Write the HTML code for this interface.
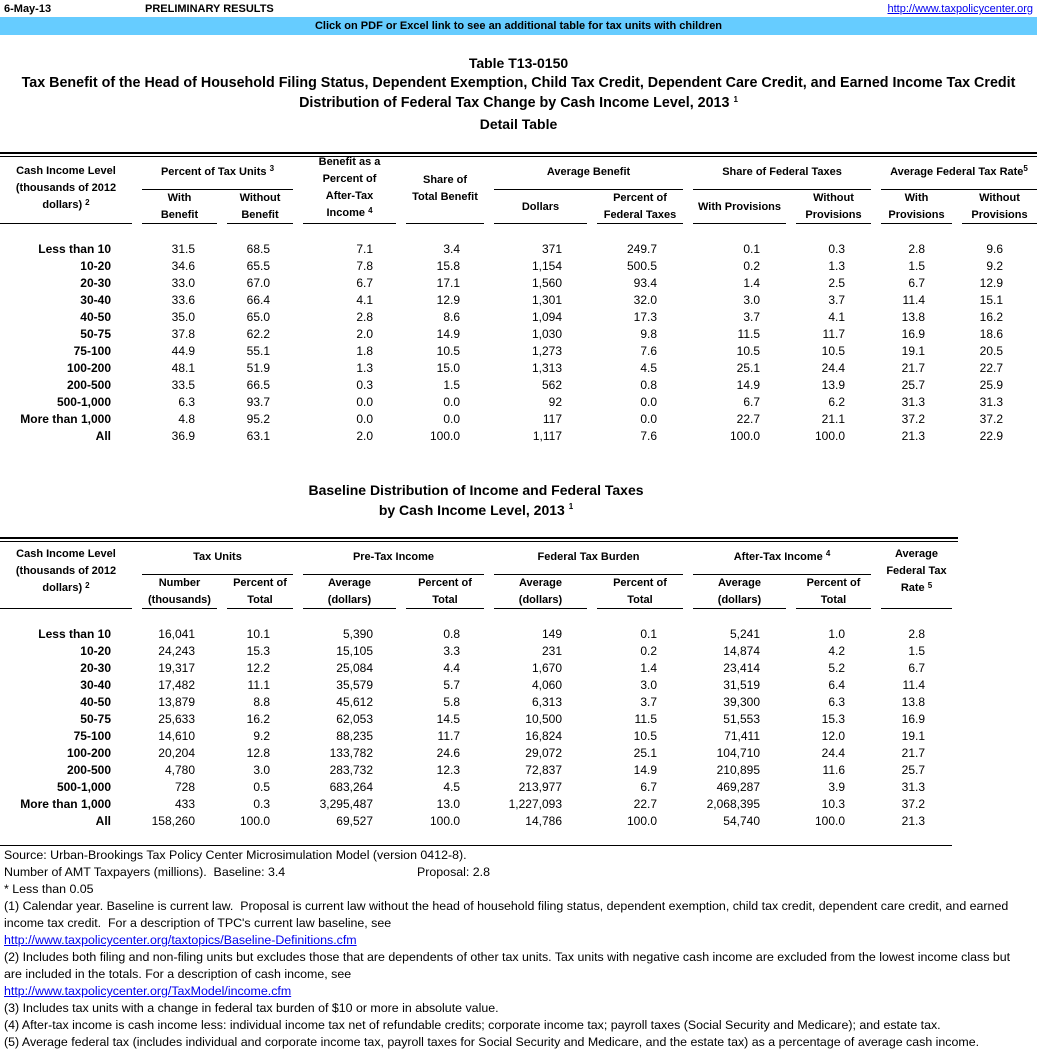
<!DOCTYPE html>
<html><head><meta charset="utf-8">
<style>
*{margin:0;padding:0;box-sizing:border-box}
body{width:1037px;height:1051px;background:#fff;position:relative;overflow:hidden;font-family:"Liberation Sans",Arial,sans-serif;font-size:12px;color:#000}
.a{position:absolute;white-space:nowrap;line-height:16px}
.b{font-weight:bold}
.ctr{text-align:center}
.r{position:absolute;left:0;width:1037px;height:16px;line-height:16px}
.r span{position:absolute;white-space:nowrap}
.l0{right:926px;font-weight:bold}
.c1{right:842px}.c2{right:767px}.c3{right:664px}.c4{right:577px}.c5{right:475px}
.c6{right:380px}.c7{right:277px}.c8{right:192px}.c9{right:112px}.c10{right:34px}
.hl{position:absolute;height:1px;background:#000}
sup{font-size:8px;vertical-align:top;position:relative;top:-3px}
a{color:#0000ee;text-decoration:underline}
.f{position:absolute;left:4px;white-space:nowrap;line-height:17px;font-size:12.4px}
</style></head><body>

<div class="a b" style="left:4px;top:1px;font-size:11px">6-May-13</div>
<div class="a b" style="left:145px;top:1px;font-size:11px">PRELIMINARY RESULTS</div>
<div class="a" style="right:4px;top:1px;font-size:11px"><a>http://www.taxpolicycenter.org</a></div>
<div style="position:absolute;left:0;top:17px;width:1037px;height:18px;background:#66ccff"></div>
<div class="a b ctr" style="left:0;width:1037px;top:18px;font-size:11px">Click on PDF or Excel link to see an additional table for tax units with children</div>

<div class="a b ctr" style="left:0;width:1037px;top:55px;font-size:14px">Table T13-0150</div>
<div class="a b ctr" style="left:0;width:1037px;top:75px;font-size:14.3px">Tax Benefit of the Head of Household Filing Status, Dependent Exemption, Child Tax Credit, Dependent Care Credit, and Earned Income Tax Credit</div>
<div class="a b ctr" style="left:0;width:1037px;top:95px;font-size:14.3px">Distribution of Federal Tax Change by Cash Income Level, 2013 <sup>1</sup></div>
<div class="a b ctr" style="left:0;width:1037px;top:116px;font-size:14px">Detail Table</div>

<div class="hl" style="left:0;width:1037px;top:152px;height:2px"></div>
<div class="hl" style="left:0;width:1037px;top:156px"></div>
<div class="a b ctr" style="left:0;width:132px;top:163px;font-size:11px;line-height:17px">Cash Income Level<br>(thousands of 2012<br>dollars) <sup>2</sup></div>
<div class="a b ctr" style="left:142px;width:151px;top:164px;font-size:11px">Percent of Tax Units <sup>3</sup></div>
<div class="hl" style="left:142px;width:151px;top:189px"></div>
<div class="a b ctr" style="left:142px;width:75px;top:190px;font-size:11px;line-height:17px">With<br>Benefit</div>
<div class="a b ctr" style="left:227px;width:66px;top:190px;font-size:11px;line-height:17px">Without<br>Benefit</div>
<div class="a b ctr" style="left:303px;width:93px;top:154px;font-size:11px;line-height:17px">Benefit as a<br>Percent of<br>After-Tax<br>Income <sup>4</sup></div>
<div class="a b ctr" style="left:406px;width:78px;top:172px;font-size:11px;line-height:17px">Share of<br>Total Benefit</div>
<div class="a b ctr" style="left:494px;width:189px;top:164px;font-size:11px">Average Benefit</div>
<div class="hl" style="left:494px;width:189px;top:189px"></div>
<div class="a b ctr" style="left:494px;width:93px;top:199px;font-size:11px">Dollars</div>
<div class="a b ctr" style="left:597px;width:86px;top:190px;font-size:11px;line-height:17px">Percent of<br>Federal Taxes</div>
<div class="a b ctr" style="left:693px;width:178px;top:164px;font-size:11px">Share of Federal Taxes</div>
<div class="hl" style="left:693px;width:178px;top:189px"></div>
<div class="a b ctr" style="left:693px;width:93px;top:199px;font-size:11px">With Provisions</div>
<div class="a b ctr" style="left:796px;width:75px;top:190px;font-size:11px;line-height:17px">Without<br>Provisions</div>
<div class="a b ctr" style="left:881px;width:156px;top:164px;font-size:11px">Average Federal Tax Rate<sup>5</sup></div>
<div class="hl" style="left:881px;width:156px;top:189px"></div>
<div class="a b ctr" style="left:881px;width:71px;top:190px;font-size:11px;line-height:17px">With<br>Provisions</div>
<div class="a b ctr" style="left:962px;width:75px;top:190px;font-size:11px;line-height:17px">Without<br>Provisions</div>
<div class="hl" style="left:0;width:132px;top:223px"></div>
<div class="hl" style="left:142px;width:75px;top:223px"></div>
<div class="hl" style="left:227px;width:66px;top:223px"></div>
<div class="hl" style="left:303px;width:93px;top:223px"></div>
<div class="hl" style="left:406px;width:78px;top:223px"></div>
<div class="hl" style="left:494px;width:93px;top:223px"></div>
<div class="hl" style="left:597px;width:86px;top:223px"></div>
<div class="hl" style="left:693px;width:93px;top:223px"></div>
<div class="hl" style="left:796px;width:75px;top:223px"></div>
<div class="hl" style="left:881px;width:71px;top:223px"></div>
<div class="hl" style="left:962px;width:75px;top:223px"></div>

<div class="r" style="top:241px"><span class="l0">Less than 10</span><span class="c1">31.5</span><span class="c2">68.5</span><span class="c3">7.1</span><span class="c4">3.4</span><span class="c5">371</span><span class="c6">249.7</span><span class="c7">0.1</span><span class="c8">0.3</span><span class="c9">2.8</span><span class="c10">9.6</span></div>
<div class="r" style="top:258px"><span class="l0">10-20</span><span class="c1">34.6</span><span class="c2">65.5</span><span class="c3">7.8</span><span class="c4">15.8</span><span class="c5">1,154</span><span class="c6">500.5</span><span class="c7">0.2</span><span class="c8">1.3</span><span class="c9">1.5</span><span class="c10">9.2</span></div>
<div class="r" style="top:275px"><span class="l0">20-30</span><span class="c1">33.0</span><span class="c2">67.0</span><span class="c3">6.7</span><span class="c4">17.1</span><span class="c5">1,560</span><span class="c6">93.4</span><span class="c7">1.4</span><span class="c8">2.5</span><span class="c9">6.7</span><span class="c10">12.9</span></div>
<div class="r" style="top:292px"><span class="l0">30-40</span><span class="c1">33.6</span><span class="c2">66.4</span><span class="c3">4.1</span><span class="c4">12.9</span><span class="c5">1,301</span><span class="c6">32.0</span><span class="c7">3.0</span><span class="c8">3.7</span><span class="c9">11.4</span><span class="c10">15.1</span></div>
<div class="r" style="top:309px"><span class="l0">40-50</span><span class="c1">35.0</span><span class="c2">65.0</span><span class="c3">2.8</span><span class="c4">8.6</span><span class="c5">1,094</span><span class="c6">17.3</span><span class="c7">3.7</span><span class="c8">4.1</span><span class="c9">13.8</span><span class="c10">16.2</span></div>
<div class="r" style="top:326px"><span class="l0">50-75</span><span class="c1">37.8</span><span class="c2">62.2</span><span class="c3">2.0</span><span class="c4">14.9</span><span class="c5">1,030</span><span class="c6">9.8</span><span class="c7">11.5</span><span class="c8">11.7</span><span class="c9">16.9</span><span class="c10">18.6</span></div>
<div class="r" style="top:343px"><span class="l0">75-100</span><span class="c1">44.9</span><span class="c2">55.1</span><span class="c3">1.8</span><span class="c4">10.5</span><span class="c5">1,273</span><span class="c6">7.6</span><span class="c7">10.5</span><span class="c8">10.5</span><span class="c9">19.1</span><span class="c10">20.5</span></div>
<div class="r" style="top:360px"><span class="l0">100-200</span><span class="c1">48.1</span><span class="c2">51.9</span><span class="c3">1.3</span><span class="c4">15.0</span><span class="c5">1,313</span><span class="c6">4.5</span><span class="c7">25.1</span><span class="c8">24.4</span><span class="c9">21.7</span><span class="c10">22.7</span></div>
<div class="r" style="top:377px"><span class="l0">200-500</span><span class="c1">33.5</span><span class="c2">66.5</span><span class="c3">0.3</span><span class="c4">1.5</span><span class="c5">562</span><span class="c6">0.8</span><span class="c7">14.9</span><span class="c8">13.9</span><span class="c9">25.7</span><span class="c10">25.9</span></div>
<div class="r" style="top:394px"><span class="l0">500-1,000</span><span class="c1">6.3</span><span class="c2">93.7</span><span class="c3">0.0</span><span class="c4">0.0</span><span class="c5">92</span><span class="c6">0.0</span><span class="c7">6.7</span><span class="c8">6.2</span><span class="c9">31.3</span><span class="c10">31.3</span></div>
<div class="r" style="top:411px"><span class="l0">More than 1,000</span><span class="c1">4.8</span><span class="c2">95.2</span><span class="c3">0.0</span><span class="c4">0.0</span><span class="c5">117</span><span class="c6">0.0</span><span class="c7">22.7</span><span class="c8">21.1</span><span class="c9">37.2</span><span class="c10">37.2</span></div>
<div class="r" style="top:428px"><span class="l0">All</span><span class="c1">36.9</span><span class="c2">63.1</span><span class="c3">2.0</span><span class="c4">100.0</span><span class="c5">1,117</span><span class="c6">7.6</span><span class="c7">100.0</span><span class="c8">100.0</span><span class="c9">21.3</span><span class="c10">22.9</span></div>

<div class="a b ctr" style="left:0;width:952px;top:482px;font-size:14px">Baseline Distribution of Income and Federal Taxes</div>
<div class="a b ctr" style="left:0;width:952px;top:502px;font-size:14px">by Cash Income Level, 2013 <sup>1</sup></div>

<div class="hl" style="left:0;width:958px;top:537px;height:2px"></div>
<div class="hl" style="left:0;width:958px;top:541px"></div>
<div class="a b ctr" style="left:0;width:132px;top:546px;font-size:11px;line-height:17px">Cash Income Level<br>(thousands of 2012<br>dollars) <sup>2</sup></div>
<div class="a b ctr" style="left:142px;width:151px;top:549px;font-size:11px">Tax Units</div>
<div class="a b ctr" style="left:303px;width:181px;top:549px;font-size:11px">Pre-Tax Income</div>
<div class="a b ctr" style="left:494px;width:189px;top:549px;font-size:11px">Federal Tax Burden</div>
<div class="a b ctr" style="left:693px;width:178px;top:549px;font-size:11px">After-Tax Income <sup>4</sup></div>
<div class="a b ctr" style="left:881px;width:71px;top:546px;font-size:11px;line-height:17px">Average<br>Federal Tax<br>Rate <sup>5</sup></div>
<div class="hl" style="left:142px;width:151px;top:574px"></div>
<div class="hl" style="left:303px;width:181px;top:574px"></div>
<div class="hl" style="left:494px;width:189px;top:574px"></div>
<div class="hl" style="left:693px;width:178px;top:574px"></div>
<div class="a b ctr" style="left:142px;width:75px;top:575px;font-size:11px;line-height:17px">Number<br>(thousands)</div>
<div class="a b ctr" style="left:227px;width:66px;top:575px;font-size:11px;line-height:17px">Percent of<br>Total</div>
<div class="a b ctr" style="left:303px;width:93px;top:575px;font-size:11px;line-height:17px">Average<br>(dollars)</div>
<div class="a b ctr" style="left:406px;width:78px;top:575px;font-size:11px;line-height:17px">Percent of<br>Total</div>
<div class="a b ctr" style="left:494px;width:93px;top:575px;font-size:11px;line-height:17px">Average<br>(dollars)</div>
<div class="a b ctr" style="left:597px;width:86px;top:575px;font-size:11px;line-height:17px">Percent of<br>Total</div>
<div class="a b ctr" style="left:693px;width:93px;top:575px;font-size:11px;line-height:17px">Average<br>(dollars)</div>
<div class="a b ctr" style="left:796px;width:75px;top:575px;font-size:11px;line-height:17px">Percent of<br>Total</div>
<div class="hl" style="left:0;width:132px;top:608px"></div>
<div class="hl" style="left:142px;width:75px;top:608px"></div>
<div class="hl" style="left:227px;width:66px;top:608px"></div>
<div class="hl" style="left:303px;width:93px;top:608px"></div>
<div class="hl" style="left:406px;width:78px;top:608px"></div>
<div class="hl" style="left:494px;width:93px;top:608px"></div>
<div class="hl" style="left:597px;width:86px;top:608px"></div>
<div class="hl" style="left:693px;width:93px;top:608px"></div>
<div class="hl" style="left:796px;width:75px;top:608px"></div>
<div class="hl" style="left:881px;width:71px;top:608px"></div>

<div class="r" style="top:626px"><span class="l0">Less than 10</span><span class="c1">16,041</span><span class="c2">10.1</span><span class="c3">5,390</span><span class="c4">0.8</span><span class="c5">149</span><span class="c6">0.1</span><span class="c7">5,241</span><span class="c8">1.0</span><span class="c9">2.8</span></div>
<div class="r" style="top:643px"><span class="l0">10-20</span><span class="c1">24,243</span><span class="c2">15.3</span><span class="c3">15,105</span><span class="c4">3.3</span><span class="c5">231</span><span class="c6">0.2</span><span class="c7">14,874</span><span class="c8">4.2</span><span class="c9">1.5</span></div>
<div class="r" style="top:660px"><span class="l0">20-30</span><span class="c1">19,317</span><span class="c2">12.2</span><span class="c3">25,084</span><span class="c4">4.4</span><span class="c5">1,670</span><span class="c6">1.4</span><span class="c7">23,414</span><span class="c8">5.2</span><span class="c9">6.7</span></div>
<div class="r" style="top:677px"><span class="l0">30-40</span><span class="c1">17,482</span><span class="c2">11.1</span><span class="c3">35,579</span><span class="c4">5.7</span><span class="c5">4,060</span><span class="c6">3.0</span><span class="c7">31,519</span><span class="c8">6.4</span><span class="c9">11.4</span></div>
<div class="r" style="top:694px"><span class="l0">40-50</span><span class="c1">13,879</span><span class="c2">8.8</span><span class="c3">45,612</span><span class="c4">5.8</span><span class="c5">6,313</span><span class="c6">3.7</span><span class="c7">39,300</span><span class="c8">6.3</span><span class="c9">13.8</span></div>
<div class="r" style="top:711px"><span class="l0">50-75</span><span class="c1">25,633</span><span class="c2">16.2</span><span class="c3">62,053</span><span class="c4">14.5</span><span class="c5">10,500</span><span class="c6">11.5</span><span class="c7">51,553</span><span class="c8">15.3</span><span class="c9">16.9</span></div>
<div class="r" style="top:728px"><span class="l0">75-100</span><span class="c1">14,610</span><span class="c2">9.2</span><span class="c3">88,235</span><span class="c4">11.7</span><span class="c5">16,824</span><span class="c6">10.5</span><span class="c7">71,411</span><span class="c8">12.0</span><span class="c9">19.1</span></div>
<div class="r" style="top:745px"><span class="l0">100-200</span><span class="c1">20,204</span><span class="c2">12.8</span><span class="c3">133,782</span><span class="c4">24.6</span><span class="c5">29,072</span><span class="c6">25.1</span><span class="c7">104,710</span><span class="c8">24.4</span><span class="c9">21.7</span></div>
<div class="r" style="top:762px"><span class="l0">200-500</span><span class="c1">4,780</span><span class="c2">3.0</span><span class="c3">283,732</span><span class="c4">12.3</span><span class="c5">72,837</span><span class="c6">14.9</span><span class="c7">210,895</span><span class="c8">11.6</span><span class="c9">25.7</span></div>
<div class="r" style="top:779px"><span class="l0">500-1,000</span><span class="c1">728</span><span class="c2">0.5</span><span class="c3">683,264</span><span class="c4">4.5</span><span class="c5">213,977</span><span class="c6">6.7</span><span class="c7">469,287</span><span class="c8">3.9</span><span class="c9">31.3</span></div>
<div class="r" style="top:796px"><span class="l0">More than 1,000</span><span class="c1">433</span><span class="c2">0.3</span><span class="c3">3,295,487</span><span class="c4">13.0</span><span class="c5">1,227,093</span><span class="c6">22.7</span><span class="c7">2,068,395</span><span class="c8">10.3</span><span class="c9">37.2</span></div>
<div class="r" style="top:813px"><span class="l0">All</span><span class="c1">158,260</span><span class="c2">100.0</span><span class="c3">69,527</span><span class="c4">100.0</span><span class="c5">14,786</span><span class="c6">100.0</span><span class="c7">54,740</span><span class="c8">100.0</span><span class="c9">21.3</span></div>

<div class="hl" style="left:0;width:952px;top:845px"></div>

<div class="f" style="top:847px">Source: Urban-Brookings Tax Policy Center Microsimulation Model (version 0412-8).</div>
<div class="f" style="top:864px">Number of AMT Taxpayers (millions).&nbsp; Baseline: 3.4</div>
<div class="f" style="top:864px;left:417px">Proposal: 2.8</div>
<div class="f" style="top:881px">* Less than 0.05</div>
<div class="f" style="top:898px">(1) Calendar year. Baseline is current law.&nbsp; Proposal is current law without the head of household filing status, dependent exemption, child tax credit, dependent care credit, and earned</div>
<div class="f" style="top:915px">income tax credit.&nbsp; For a description of TPC's current law baseline, see</div>
<div class="f" style="top:932px"><a>http://www.taxpolicycenter.org/taxtopics/Baseline-Definitions.cfm</a></div>
<div class="f" style="top:949px">(2) Includes both filing and non-filing units but excludes those that are dependents of other tax units. Tax units with negative cash income are excluded from the lowest income class but</div>
<div class="f" style="top:966px">are included in the totals. For a description of cash income, see</div>
<div class="f" style="top:983px"><a>http://www.taxpolicycenter.org/TaxModel/income.cfm</a></div>
<div class="f" style="top:1000px">(3) Includes tax units with a change in federal tax burden of $10 or more in absolute value.</div>
<div class="f" style="top:1017px">(4) After-tax income is cash income less: individual income tax net of refundable credits; corporate income tax; payroll taxes (Social Security and Medicare); and estate tax.</div>
<div class="f" style="top:1034px">(5) Average federal tax (includes individual and corporate income tax, payroll taxes for Social Security and Medicare, and the estate tax) as a percentage of average cash income.</div>
</body></html>
